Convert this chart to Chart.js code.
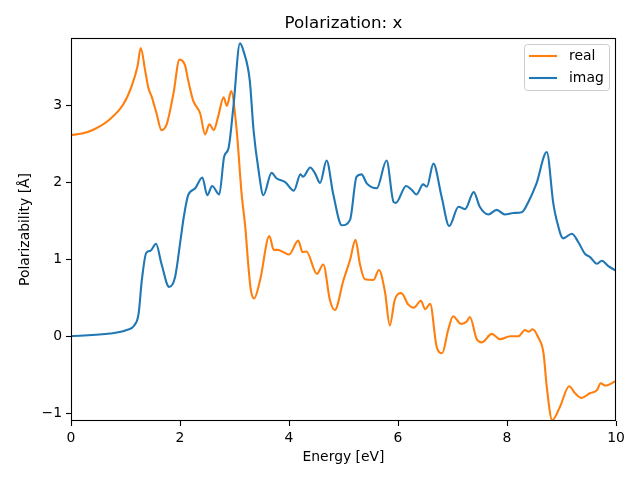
<!DOCTYPE html>
<html>
<head>
<meta charset="utf-8">
<script src="https://cdn.jsdelivr.net/npm/chart.js@4/dist/chart.umd.min.js"></script>
<style>
  html, body { margin: 0; padding: 0; background: #fff; }
  #wrap { width: 640px; height: 480px; }
</style>
</head>
<body>
<div id="wrap"><canvas id="polChart" width="640" height="480"></canvas></div>
<script>
// values
const realEnergy = [0, 0.2, 0.41, 0.72, 0.96, 1.11, 1.22, 1.28, 1.36, 1.42, 1.48, 1.57, 1.66, 1.76, 1.88, 1.99, 2.09, 2.15, 2.24, 2.37, 2.46, 2.54, 2.62, 2.70, 2.80, 2.86, 2.94, 3.04, 3.13, 3.20, 3.25, 3.30, 3.36, 3.47, 3.64, 3.72, 3.80, 3.90, 4.00, 4.17, 4.25, 4.32, 4.51, 4.63, 4.75, 4.84, 5.00, 5.12, 5.22, 5.30, 5.39, 5.55, 5.65, 5.76, 5.85, 5.94, 6.06, 6.19, 6.29, 6.42, 6.50, 6.59, 6.71, 6.81, 6.92, 7.01, 7.16, 7.26, 7.32, 7.44, 7.54, 7.72, 7.87, 8.06, 8.21, 8.33, 8.40, 8.47, 8.57, 8.67, 8.73, 8.83, 8.97, 9.14, 9.25, 9.37, 9.52, 9.65, 9.72, 9.80, 10];
const realValues = [2.61, 2.63, 2.68, 2.82, 3.01, 3.24, 3.50, 3.74, 3.45, 3.22, 3.11, 2.89, 2.675, 2.76, 3.15, 3.59, 3.52, 3.32, 3.06, 2.89, 2.62, 2.75, 2.675, 2.85, 3.10, 2.99, 3.18, 2.67, 1.85, 1.40, 0.95, 0.60, 0.49, 0.73, 1.30, 1.12, 1.12, 1.09, 1.06, 1.24, 1.09, 1.10, 0.81, 0.93, 0.47, 0.34, 0.73, 0.99, 1.25, 0.94, 0.74, 0.73, 0.86, 0.58, 0.14, 0.47, 0.56, 0.41, 0.37, 0.46, 0.35, 0.42, -0.14, -0.22, 0.08, 0.26, 0.16, 0.19, 0.25, -0.03, -0.08, 0.03, -0.04, 0.00, 0.00, 0.08, 0.06, 0.09, -0.01, -0.22, -0.66, -1.09, -0.92, -0.65, -0.74, -0.80, -0.74, -0.70, -0.61, -0.64, -0.58];

const imagEnergy = [0, 0.72, 1.02, 1.16, 1.24, 1.30, 1.38, 1.46, 1.56, 1.66, 1.80, 1.91, 2.01, 2.07, 2.15, 2.28, 2.41, 2.50, 2.59, 2.72, 2.81, 2.89, 2.98, 3.10, 3.17, 3.28, 3.35, 3.44, 3.53, 3.68, 3.77, 3.93, 4.09, 4.21, 4.26, 4.39, 4.48, 4.57, 4.69, 4.81, 4.97, 5.12, 5.24, 5.33, 5.43, 5.61, 5.79, 5.92, 5.96, 6.15, 6.25, 6.34, 6.46, 6.53, 6.65, 6.80, 6.94, 7.11, 7.23, 7.39, 7.50, 7.66, 7.81, 7.96, 8.12, 8.27, 8.39, 8.54, 8.73, 8.85, 8.91, 9.03, 9.19, 9.31, 9.43, 9.52, 9.65, 9.74, 9.86, 10];
const imagValues = [0, 0.035, 0.08, 0.14, 0.29, 0.73, 1.08, 1.11, 1.20, 0.94, 0.64, 0.77, 1.25, 1.55, 1.83, 1.92, 2.06, 1.83, 1.95, 1.84, 2.33, 2.44, 2.98, 3.80, 3.69, 3.32, 2.67, 2.16, 1.83, 2.12, 2.05, 2.00, 1.89, 2.10, 2.07, 2.19, 2.11, 1.99, 2.28, 1.85, 1.44, 1.51, 2.07, 2.10, 1.98, 1.92, 2.28, 1.74, 1.73, 1.95, 1.90, 1.84, 1.97, 1.94, 2.24, 1.81, 1.43, 1.68, 1.65, 1.87, 1.68, 1.58, 1.64, 1.58, 1.60, 1.61, 1.74, 1.98, 2.39, 1.72, 1.51, 1.27, 1.33, 1.22, 1.07, 1.03, 0.94, 0.98, 0.91, 0.85];

const xTicks = [0, 2, 4, 6, 8, 10];
const yTicks = [-1, 0, 1, 2, 3];

const FONT = "'DejaVu Sans', sans-serif";
const toPoints = (xs, ys) => xs.map((x, i) => ({ x: x, y: ys[i] }));
const fmt = v => (v < 0 ? "\u2212" + Math.abs(v) : String(v));

// title, axis labels, full frame and the in-plot legend (matplotlib style)
const decor = {
    id: "decor",
    afterDraw(chart) {
        const { ctx, chartArea: a } = chart;
        ctx.save();
        ctx.fillStyle = "#000";

        ctx.font = "16.7px " + FONT;
        ctx.textAlign = "center";
        ctx.textBaseline = "alphabetic";
        ctx.fillText("Polarization: x", (a.left + a.right) / 2, 28);

        ctx.font = "13.9px " + FONT;
        ctx.textBaseline = "middle";
        ctx.fillText("Energy [eV]", (a.left + a.right) / 2, 457);

        ctx.save();
        ctx.translate(25, (a.top + a.bottom) / 2);
        ctx.rotate(-Math.PI / 2);
        ctx.fillText("Polarizability [Å]", 0, 0);
        ctx.restore();

        ctx.strokeStyle = "#000";
        ctx.lineWidth = 1.1;
        ctx.strokeRect(a.left + 0.5, a.top + 0.5, a.right - a.left - 1, a.bottom - a.top - 1);

        // legend
        const bx = 524.5, by = 44.5, bw = 85, bh = 46, r = 3;
        ctx.beginPath();
        ctx.roundRect(bx, by, bw, bh, r);
        ctx.fillStyle = "rgba(255,255,255,0.8)";
        ctx.fill();
        ctx.strokeStyle = "#cccccc";
        ctx.lineWidth = 1;
        ctx.stroke();

        const rows = [chart.data.datasets[0], chart.data.datasets[1]];
        rows.forEach((ds, i) => {
            const y = 56 + i * 22;
            ctx.strokeStyle = ds.borderColor;
            ctx.lineWidth = 2.1;
            ctx.beginPath();
            ctx.moveTo(529, y);
            ctx.lineTo(557, y);
            ctx.stroke();
            ctx.fillStyle = "#000";
            ctx.textAlign = "left";
            ctx.textBaseline = "middle";
            ctx.font = "13.9px " + FONT;
            ctx.fillText(ds.label, 569, y);
        });
        ctx.restore();
    }
};

new Chart(document.getElementById("polChart"), {
    type: "line",
    data: {
        datasets: [
            {
                label: "real",
                data: toPoints(realEnergy, realValues),
                borderColor: "#ff7f0e",
                borderWidth: 2.1,
                pointRadius: 0,
                cubicInterpolationMode: "monotone",
                order: 1
            },
            {
                label: "imag",
                data: toPoints(imagEnergy, imagValues),
                borderColor: "#1f77b4",
                borderWidth: 2.1,
                pointRadius: 0,
                cubicInterpolationMode: "monotone",
                order: 0
            }
        ]
    },
    options: {
        responsive: false,
        animation: false,
        events: [],
        layout: { padding: { top: 38, right: 24, left: 0, bottom: 0 } },
        plugins: {
            legend: { display: false },
            title: { display: false },
            tooltip: { enabled: false }
        },
        scales: {
            x: {
                type: "linear",
                min: 0,
                max: 10,
                afterFit: s => { s.height = 59; },
                afterBuildTicks: s => { s.ticks = xTicks.map(v => ({ value: v })); },
                ticks: {
                    color: "#000",
                    font: { family: FONT, size: 13.9 },
                    padding: 4,
                    maxRotation: 0,
                    callback: v => fmt(v)
                },
                grid: { drawOnChartArea: false, drawTicks: true, tickLength: 5, color: "#000", tickWidth: 1.1 },
                border: { display: false }
            },
            y: {
                min: -1.1,
                max: 3.87,
                afterFit: s => { s.width = 71; },
                afterBuildTicks: s => { s.ticks = yTicks.map(v => ({ value: v })); },
                ticks: {
                    color: "#000",
                    font: { family: FONT, size: 13.9 },
                    padding: 4,
                    callback: v => fmt(v)
                },
                grid: { drawOnChartArea: false, drawTicks: true, tickLength: 5, color: "#000", tickWidth: 1.1 },
                border: { display: false }
            }
        }
    },
    plugins: [decor]
});
</script>
</body>
</html>
